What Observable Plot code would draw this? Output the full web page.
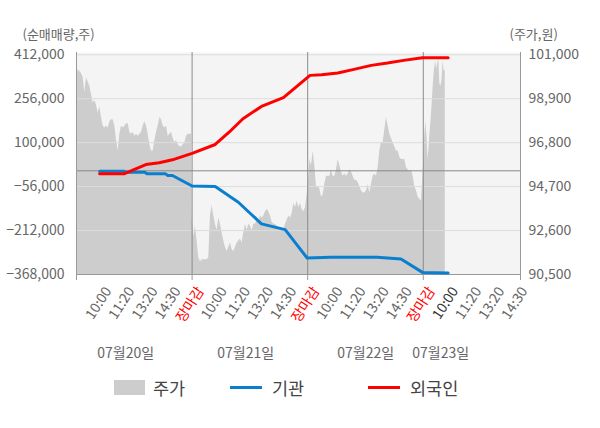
<!DOCTYPE html>
<html>
<head>
<meta charset="utf-8">
<script src="https://cdn.jsdelivr.net/npm/d3@7"></script>
<script src="https://cdn.jsdelivr.net/npm/@observablehq/plot@0.6"></script>
<style>
  html, body { margin: 0; padding: 0; background: #fff; }
  #wrap { width: 600px; font-family: 'Noto Sans CJK KR', 'Noto Sans', sans-serif; }
  #legend { position: relative; width: 600px; height: 62px; color: #444; font-size: 17.5px; }
  .item { position: absolute; top: 8px; height: 26px; display: flex; align-items: center; }
  .sw { display: inline-block; margin-right: 8px; }
</style>
</head>
<body>
<div id="wrap">
  <div id="chart"></div>
  <div id="legend">
    <div class="item" style="left:114px"><span class="sw" style="width:31px;height:15px;background:#cdcdcd"></span>주가</div>
    <div class="item" style="left:230px"><span class="sw" style="width:32px;height:3px;background:#0a7fcf;margin-right:10px"></span>기관</div>
    <div class="item" style="left:368px"><span class="sw" style="width:32px;height:3px;background:#ff0000;margin-right:10px"></span>외국인</div>
  </div>
</div>
<script>
// ---------- data ----------
const days = ["07월20일", "07월21일", "07월22일", "07월23일"];
const timeLabels = ["10:00", "11:20", "13:20", "14:30", "장마감"];
const dayLabelPos = [0.426, 1.464, 2.502, 3.151];

const leftTicks = [-368000, -212000, -56000, 100000, 256000, 412000];
const priceTicks = [90500, 92600, 94700, 96800, 98900, 101000];

// 주가 (price) samples, evenly spaced within each day's span (in day units)
const price0720 = [99700,100300,100200,100100,99900,99200,99900,99700,99500,99100,
  98700,98800,98600,98200,98500,98000,97600,97500,97600,97500,
  97800,97900,97900,97600,96900,96400,97200,97600,97500,97600,
  97700,97700,97300,97200,97300,97100,97200,97100,97200,97300,
  97600,97800,97600,97200,96700,96400,96400,96900,97300,97600,
  98000,97900,97600,97500,97600,97100,97200,97300,97000,96800,
  96900,96700,96600,96600,96700,96800,97100,97200,97200,97200];
const price0721 = [93300,92300,92800,92100,91300,91100,91200,91200,91200,91200,
  91300,93300,93800,93300,92900,92600,93200,92900,92500,92100,
  91800,91600,91800,92000,91700,91600,91800,92000,92100,92200,
  92000,92500,92900,92600,92900,92800,92600,92900,92900,93100,
  93000,93300,93200,93300,93500,93600,93500,93300,93000,92900,
  92900,92800,92700,92600,92600,92600,92900,93100,93300,93200,
  93400,93900,93700,94000,93700,93900,93600,93500,93700];
const price0722 = [94700,96000,95700,96400,95700,94700,94700,94600,94200,94300,
  94800,95200,95200,95200,95500,95200,95200,95500,96000,95700,
  95400,95200,95300,95200,95300,95500,95400,95200,95000,95000,
  94900,94700,94500,94400,94400,94500,94800,94400,94800,95200,
  95300,95200,95600,96400,96800,96800,97400,98000,97600,97200,
  97000,96800,96600,96400,96400,96100,96000,96000,96000,95600,
  95500,95400,95500,95200,94700,94500,94200,94100,94000];
const price0723 = [95900,97200,97800,97100,96000,96600,97400,98000,98800,99700,
  100300,100700,100300,100600,100800,99600,99500,99800,100700,100200,100300];
const priceSeries = [price0720, price0721, price0722, price0723];
const priceSpans = [[0, 0.995], [1.0, 1.981], [2.004, 2.984], [3.004, 3.19]];

// 기관 (institutions) cumulative net buying
const instTime = [0.2, 0.41, 0.43, 0.59, 0.61, 0.77, 0.79, 0.83, 1.0, 1.2, 1.4, 1.6, 1.805, 1.995, 2.2, 2.6, 2.807, 2.993, 3.215];
const instNet  = [-1400, -1400, -5000, -5000, -10700, -10700, -16700, -16700, -54000, -55800, -111600, -188400, -208700, -309300, -307200, -307200, -312800, -360500, -362600];

// 외국인 (foreigners) cumulative net buying
const forTime = [0.2, 0.41, 0.6, 0.715, 0.83, 1.0, 1.2, 1.32, 1.44, 1.6, 1.79, 2.02, 2.12, 2.26, 2.4, 2.55, 2.69, 2.83, 2.993, 3.215];
const forNet  = [-10700, -10700, 22400, 28400, 39100, 62000, 93500, 137000, 185000, 228600, 259500, 338800, 341300, 347000, 360100, 374300, 382500, 392100, 401700, 401700];

// ---------- build ----------
const xMax = 3.841;
const V0 = -368000, V1 = 412000, P0 = 90500, P1 = 101000;
const toV = p => V0 + (p - P0) * (V1 - V0) / (P1 - P0);
const toP = v => Math.round((P0 + (v - V0) * (P1 - P0) / (V1 - V0)) / 100) * 100;
const fmt = d3.format(",");

const priceRows = priceSeries.flatMap((arr, d) => {
  const [a, b] = priceSpans[d];
  return arr.map((p, i) => ({x: a + i * (b - a) / (arr.length - 1), price: p}));
});
const instRows = instTime.map((t, i) => ({x: t, v: instNet[i]}));
const forRows = forTime.map((t, i) => ({x: t, v: forNet[i]}));

const tickRows = days.flatMap((day, d) => timeLabels.map((lab, k) => ({pos: d + (k + 1) / 5, lab, d, k})))
  .filter(t => t.pos <= xMax);
const grayRows = tickRows.filter(t => t.k < 4 && !(t.d === 3 && t.k === 0));
const redRows = tickRows.filter(t => t.k === 4);
const darkRows = tickRows.filter(t => t.d === 3 && t.k === 0);

const xLabelOpts = {x: "pos", text: "lab", frameAnchor: "bottom", rotate: -57, textAnchor: "end", lineAnchor: "top", dx: 4, dy: 11, fontSize: 14};

const chart = Plot.plot({
  width: 600,
  height: 366,
  marginTop: 52,
  marginBottom: 92,
  marginLeft: 76,
  marginRight: 80,
  x: {domain: [0, xMax]},
  y: {domain: [V0, 420000]},
  style: {fontFamily: "'Noto Sans CJK KR', 'Noto Sans', sans-serif", fontSize: "14px", color: "#666", background: "#fff"},
  marks: [
    Plot.frame({fill: "#f4f4f4", stroke: "none"}),
    Plot.areaY(priceRows, {x: "x", y1: V0, y2: d => toV(d.price), fill: "#cdcdcd"}),
    Plot.ruleY(leftTicks.slice(1), {stroke: "#dcdcdc"}),
    Plot.ruleY([0], {stroke: "#888"}),
    Plot.ruleX([1, 2, 3], {stroke: "#8c8c8c"}),
    Plot.ruleX([0, xMax], {stroke: "#999"}),
    Plot.ruleY([V0], {stroke: "#999"}),
    Plot.line(instRows, {x: "x", y: "v", stroke: "#0a7fcf", strokeWidth: 3}),
    Plot.line(forRows, {x: "x", y: "v", stroke: "#ff0000", strokeWidth: 3}),
    Plot.axisY({anchor: "left", ticks: leftTicks, tickFormat: fmt, tickSize: 0, tickPadding: 12, fontSize: 14, fill: "#666", label: null}),
    Plot.axisY({anchor: "right", ticks: priceTicks.map(toV), tickFormat: v => fmt(toP(v)), tickSize: 0, tickPadding: 8, fontSize: 14, fill: "#666", label: null}),
    Plot.axisX({anchor: "bottom", ticks: [0, 1, 2, 3, xMax], tickSize: 6, tickFormat: () => "", stroke: "#999", label: null}),
    Plot.text(grayRows, {...xLabelOpts, fill: "#666"}),
    Plot.text(redRows, {...xLabelOpts, fill: "#ff0000"}),
    Plot.text(darkRows, {...xLabelOpts, fill: "#333"}),
    Plot.text(days, {x: (d, i) => dayLabelPos[i], frameAnchor: "bottom", lineAnchor: "middle", dy: 79, fill: "#666", fontSize: 14}),
    Plot.text(["(순매매량,주)"], {frameAnchor: "top-left", lineAnchor: "middle", textAnchor: "start", dx: -54, dy: -18, fill: "#666", fontSize: 13}),
    Plot.text(["(주가,원)"], {frameAnchor: "top-right", lineAnchor: "middle", textAnchor: "start", dx: -11, dy: -18, fill: "#666", fontSize: 13})
  ]
});
document.getElementById("chart").appendChild(chart);
</script>
</body>
</html>
